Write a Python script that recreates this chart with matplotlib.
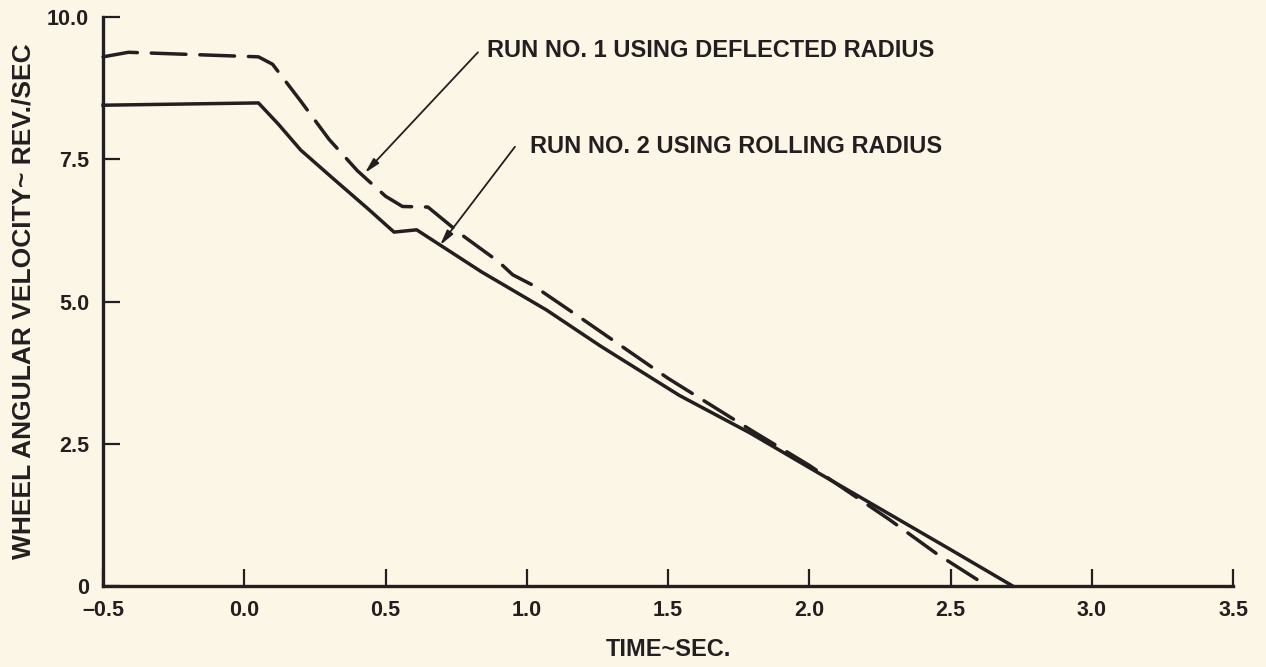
import matplotlib.pyplot as plt

# run no. 1 - deflected radius (dashed)
run1_time = [-0.5, -0.41, 0.05, 0.10, 0.20, 0.30, 0.40, 0.50, 0.56, 0.65, 0.77,
             0.90, 0.95, 1.02, 1.20, 1.50, 1.80, 2.00, 2.28, 2.45, 2.63]
run1_vel = [9.30, 9.38, 9.30, 9.17, 8.52, 7.85, 7.30, 6.85, 6.67, 6.66, 6.17,
            5.70, 5.47, 5.29, 4.68, 3.65, 2.72, 2.12, 1.18, 0.57, 0.0]

# run no. 2 - rolling radius (solid)
run2_time = [-0.5, 0.05, 0.12, 0.20, 0.31, 0.44, 0.53, 0.61, 0.84, 1.07, 1.26,
             1.54, 1.79, 2.00, 2.50, 2.72]
run2_vel = [8.45, 8.49, 8.12, 7.66, 7.18, 6.62, 6.22, 6.26, 5.52, 4.85, 4.22,
            3.35, 2.69, 2.08, 0.64, 0.0]

x_ticks = [-0.5, 0.0, 0.5, 1.0, 1.5, 2.0, 2.5, 3.0, 3.5]
x_labels = ["\u20130.5", "0.0", "0.5", "1.0", "1.5", "2.0", "2.5", "3.0", "3.5"]
y_ticks = [0, 2.5, 5.0, 7.5, 10.0]
y_labels = ["0", "2.5", "5.0", "7.5", "10.0"]

INK = "#231f20"
PAPER = "#fcf6e6"

plt.rcParams["font.family"] = ["Liberation Sans", "DejaVu Sans"]
plt.rcParams["font.weight"] = "bold"

fig = plt.figure(figsize=(12.66, 6.67), dpi=100, facecolor=PAPER)
ax = fig.add_axes([0.0814, 0.1214, 0.8926, 0.8531])
ax.set_facecolor(PAPER)

ax.plot(run2_time, run2_vel, color=INK, lw=2.5, solid_joinstyle="round", clip_on=False)
ax.plot(run1_time, run1_vel, color=INK, lw=2.5, dashes=(10, 4),
        dash_capstyle="round", clip_on=False)

ax.set_xlim(-0.5, 3.5)
ax.set_ylim(0, 10)
for side in ["top", "right"]:
    ax.spines[side].set_visible(False)
for side in ["left", "bottom"]:
    ax.spines[side].set_linewidth(2.4)
    ax.spines[side].set_color(INK)

ax.set_xticks(x_ticks)
ax.set_xticklabels(x_labels)
ax.set_yticks(y_ticks)
ax.set_yticklabels(y_labels)
ax.tick_params(direction="in", length=12, width=1.6, color=INK,
               labelsize=15.5, labelcolor=INK)
ax.tick_params(axis="x", pad=10)
ax.tick_params(axis="y", pad=10)

ax.set_xlabel("TIME~SEC.", fontsize=17, fontweight="bold", color=INK, labelpad=12)
ax.set_ylabel("WHEEL ANGULAR VELOCITY~ REV./SEC", fontsize=19, fontweight="bold",
              color=INK, labelpad=8)

arrow = dict(arrowstyle="-|>,head_length=0.9,head_width=0.22", color=INK, lw=1.3,
             shrinkA=0, shrinkB=0)
ax.annotate("", xy=(0.427, 7.26), xytext=(0.827, 9.38), arrowprops=arrow)
ax.text(0.859, 9.42, "RUN NO. 1 USING DEFLECTED RADIUS", fontsize=17,
        fontweight="bold", color=INK, va="center", ha="left")
ax.annotate("", xy=(0.693, 5.99), xytext=(0.958, 7.72), arrowprops=arrow)
ax.text(1.01, 7.72, "RUN NO. 2 USING ROLLING RADIUS", fontsize=17,
        fontweight="bold", color=INK, va="center", ha="left")

fig.savefig("out.png", dpi=100, facecolor=PAPER)
